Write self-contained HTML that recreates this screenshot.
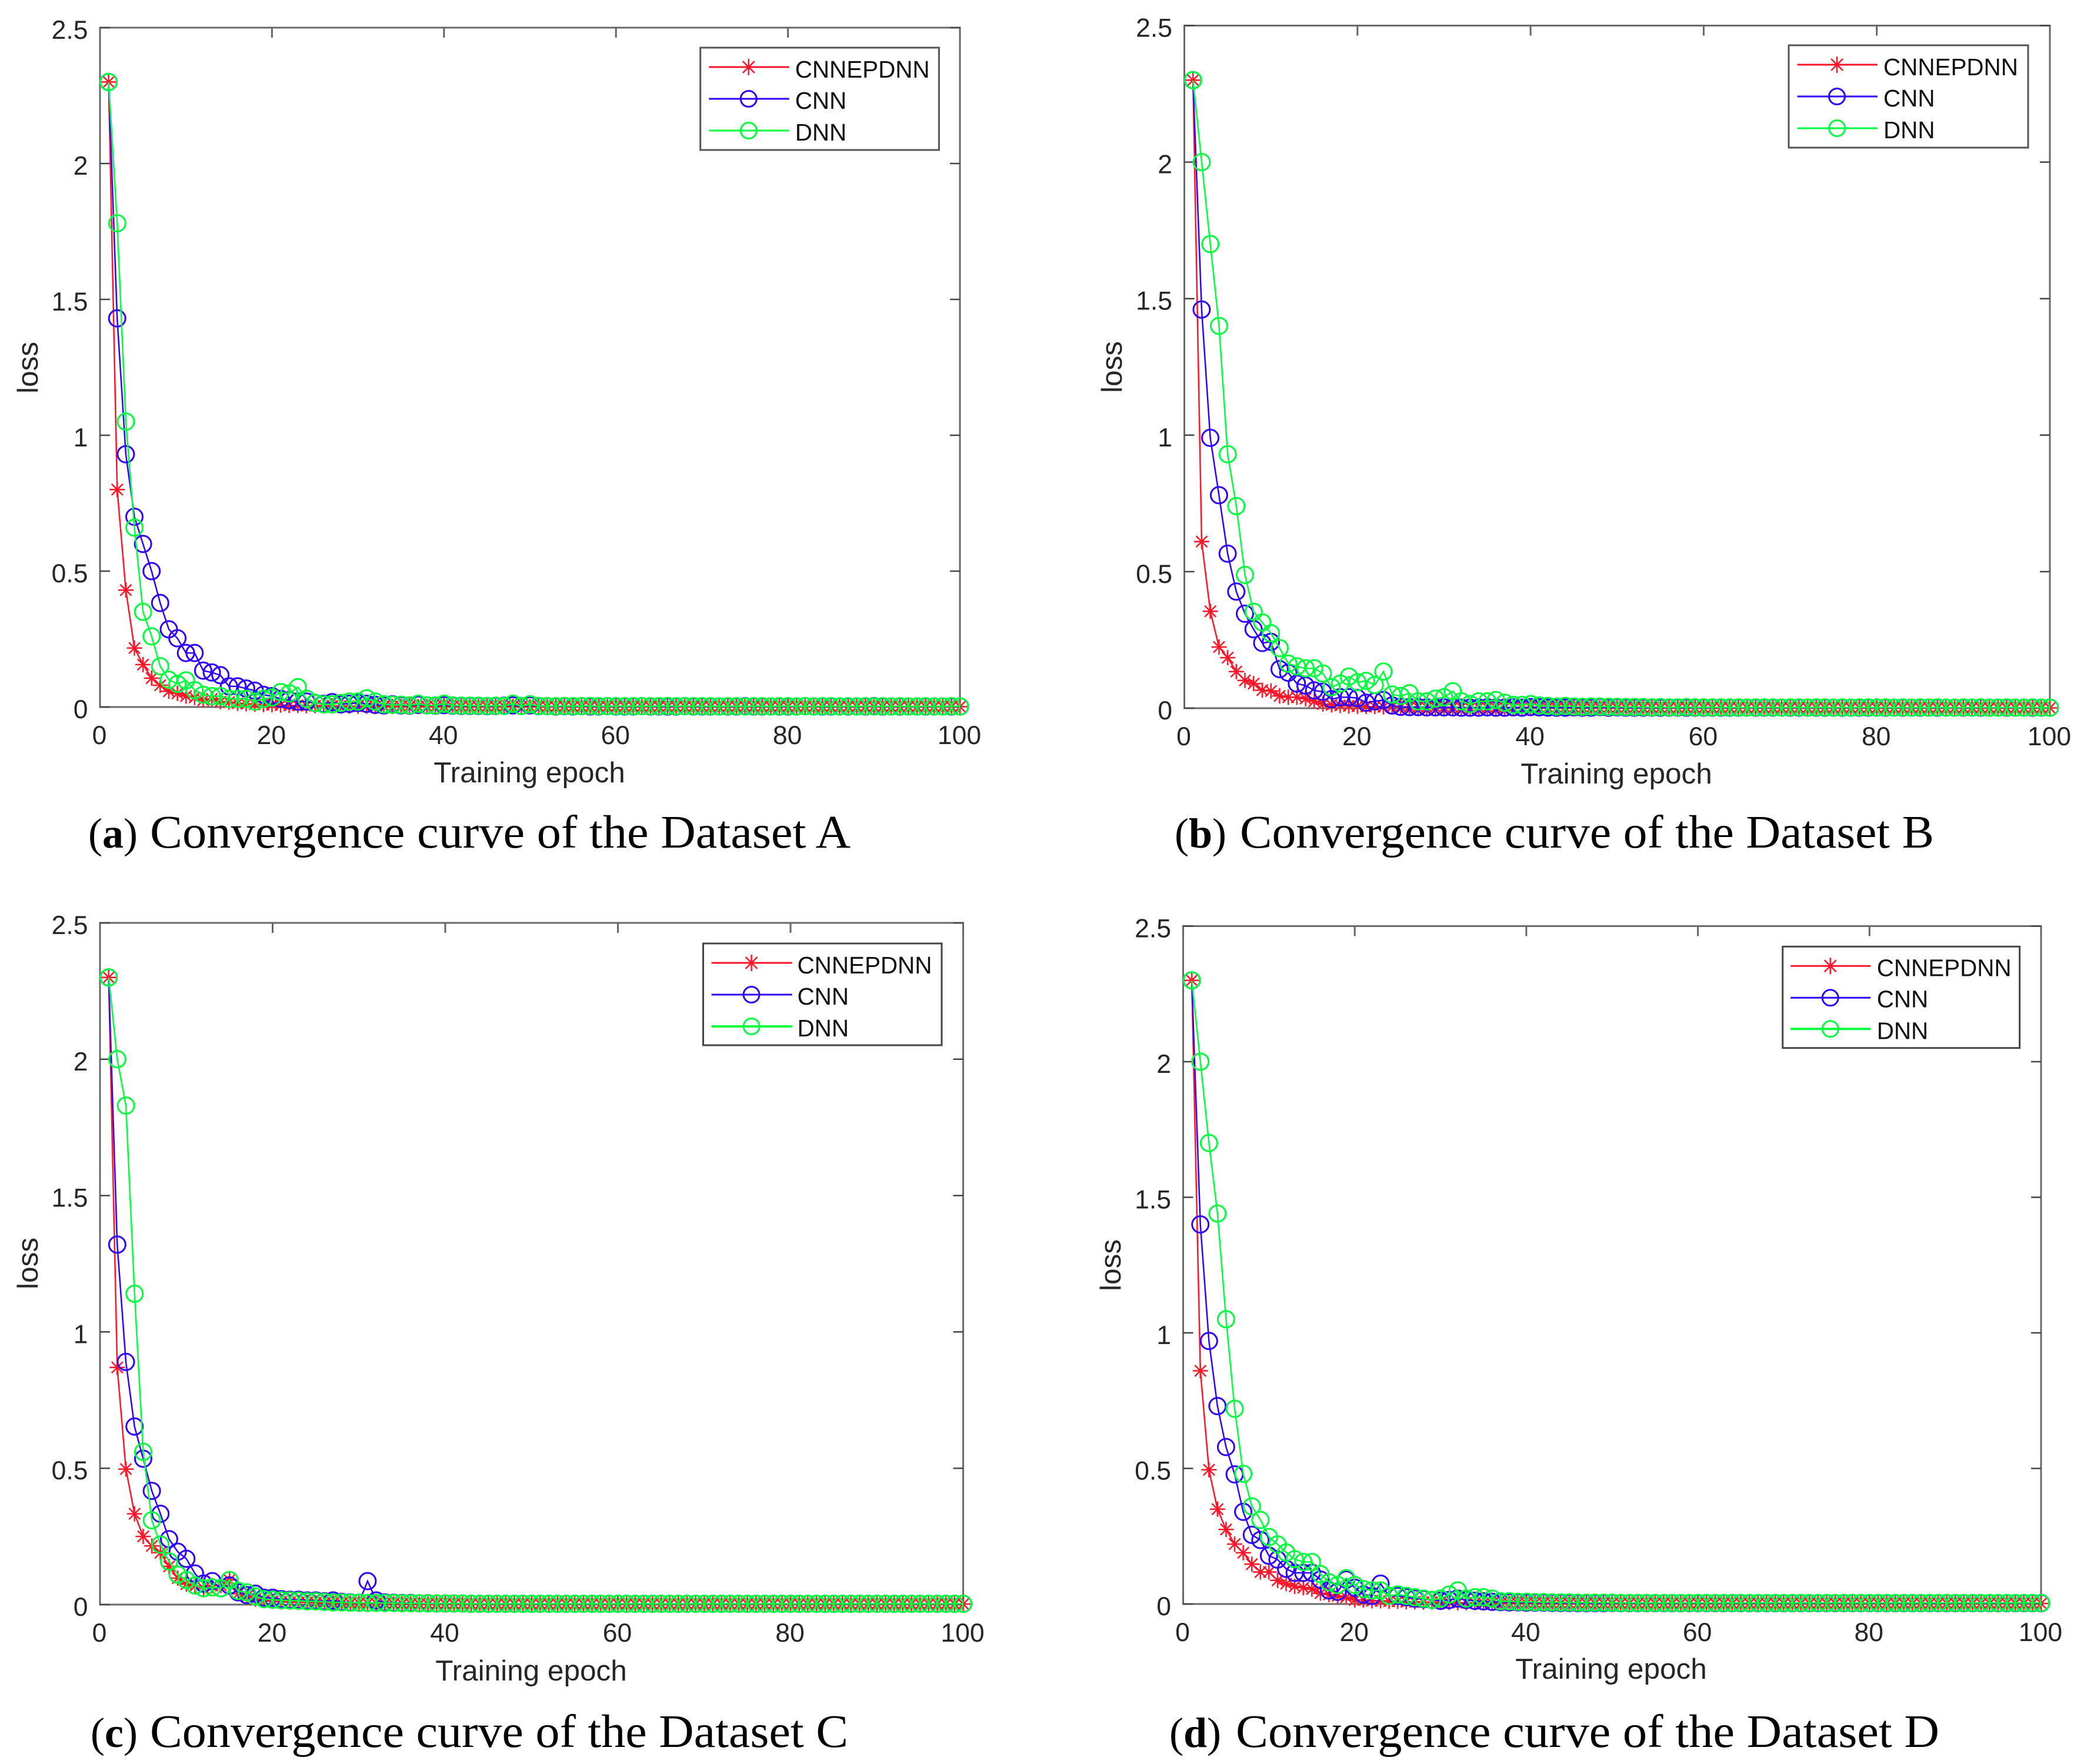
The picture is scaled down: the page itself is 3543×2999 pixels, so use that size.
<!DOCTYPE html>
<html lang="en">
<head>
<meta charset="utf-8">
<title>Convergence curves</title>
<style>
html,body{margin:0;padding:0;background:#fff;}
svg{display:block;}
.tick-text{font-family:"Liberation Sans",sans-serif;font-size:44.5px;fill:#262626;}
.axis-title{font-family:"Liberation Sans",sans-serif;font-size:49.5px;fill:#262626;}
.legend-text{font-family:"Liberation Sans",sans-serif;font-size:40.4px;fill:#111;}
.caption{font-family:"Liberation Serif",serif;font-size:79px;fill:#000;}
.caption-tag{font-size:72px;}
</style>
</head>
<body>
<svg id="figure" xmlns="http://www.w3.org/2000/svg" width="3543" height="2999" viewBox="0 0 3543 2999">
<rect x="0" y="0" width="3543" height="2999" fill="#fff"/>
<g id="panel-a"></g>
<g id="panel-b"></g>
<g id="panel-c"></g>
<g id="panel-d"></g>

<text class="axis-title" x="900" y="1330" text-anchor="middle">Training epoch</text>
<text class="axis-title" x="2748" y="1332" text-anchor="middle">Training epoch</text>
<text class="axis-title" x="903" y="2857" text-anchor="middle">Training epoch</text>
<text class="axis-title" x="2739" y="2854" text-anchor="middle">Training epoch</text>

<text class="axis-title" transform="translate(64,625) rotate(-90)" text-anchor="middle">loss</text>
<text class="axis-title" transform="translate(1907,624) rotate(-90)" text-anchor="middle">loss</text>
<text class="axis-title" transform="translate(64,2148) rotate(-90)" text-anchor="middle">loss</text>
<text class="axis-title" transform="translate(1905,2151) rotate(-90)" text-anchor="middle">loss</text>

<g transform="translate(1190.7,81)">
<rect width="405.7" height="174" fill="#fff" stroke="#555" stroke-width="3"/>
<path d="M14.5 33H151" stroke="#ff1428" stroke-width="3" fill="none"/>
<path transform="translate(82,33)" d="M0-14V14M-10-10L10 10M-10 10L10-10" stroke="#ff1428" stroke-width="2.5" fill="none"/>
<text class="legend-text" x="161" y="51">CNNEPDNN</text>
<path d="M14.5 87H151" stroke="#3000ff" stroke-width="3" fill="none"/>
<circle cx="82" cy="87" r="13.5" stroke="#3000ff" stroke-width="3" fill="none"/>
<text class="legend-text" x="161" y="104">CNN</text>
<path d="M14.5 141H151" stroke="#00ff3c" stroke-width="3" fill="none"/>
<circle cx="82" cy="141" r="13.5" stroke="#00ff3c" stroke-width="3" fill="none"/>
<text class="legend-text" x="161" y="158">DNN</text>
</g>
<g transform="translate(3041,77)">
<rect width="407" height="174" fill="#fff" stroke="#555" stroke-width="3"/>
<path d="M14.5 33H151" stroke="#ff1428" stroke-width="3" fill="none"/>
<path transform="translate(82,33)" d="M0-14V14M-10-10L10 10M-10 10L10-10" stroke="#ff1428" stroke-width="2.5" fill="none"/>
<text class="legend-text" x="161" y="51">CNNEPDNN</text>
<path d="M14.5 87H151" stroke="#3000ff" stroke-width="3" fill="none"/>
<circle cx="82" cy="87" r="13.5" stroke="#3000ff" stroke-width="3" fill="none"/>
<text class="legend-text" x="161" y="104">CNN</text>
<path d="M14.5 141H151" stroke="#00ff3c" stroke-width="3" fill="none"/>
<circle cx="82" cy="141" r="13.5" stroke="#00ff3c" stroke-width="3" fill="none"/>
<text class="legend-text" x="161" y="158">DNN</text>
</g>
<g transform="translate(1195.5,1604)">
<rect width="405.5" height="173" fill="#fff" stroke="#444" stroke-width="3"/>
<path d="M14 33H151" stroke="#ff1428" stroke-width="3" fill="none"/>
<path transform="translate(82,33)" d="M0-14V14M-10-10L10 10M-10 10L10-10" stroke="#ff1428" stroke-width="2.5" fill="none"/>
<text class="legend-text" x="160" y="51">CNNEPDNN</text>
<path d="M14 87H151" stroke="#3000ff" stroke-width="3" fill="none"/>
<circle cx="82" cy="87" r="13.5" stroke="#3000ff" stroke-width="3" fill="none"/>
<text class="legend-text" x="160" y="104">CNN</text>
<path d="M14 141H151" stroke="#00ff3c" stroke-width="4" fill="none"/>
<circle cx="82" cy="141" r="13.5" stroke="#00ff3c" stroke-width="3" fill="none"/>
<text class="legend-text" x="160" y="158">DNN</text>
</g>
<g transform="translate(3030.7,1609.3)">
<rect width="402.9" height="172.4" fill="#fff" stroke="#444" stroke-width="3"/>
<path d="M13.5 33H149.5" stroke="#ff1428" stroke-width="3" fill="none"/>
<path transform="translate(81,33)" d="M0-14V14M-10-10L10 10M-10 10L10-10" stroke="#ff1428" stroke-width="2.5" fill="none"/>
<text class="legend-text" x="160" y="50">CNNEPDNN</text>
<path d="M13.5 87H149.5" stroke="#3000ff" stroke-width="3" fill="none"/>
<circle cx="81" cy="87" r="13.5" stroke="#3000ff" stroke-width="3" fill="none"/>
<text class="legend-text" x="160" y="103">CNN</text>
<path d="M13.5 140H149.5" stroke="#00ff3c" stroke-width="4" fill="none"/>
<circle cx="81" cy="140" r="13.5" stroke="#00ff3c" stroke-width="3" fill="none"/>
<text class="legend-text" x="160" y="157">DNN</text>
</g>

<text class="caption" y="1441"><tspan class="caption-tag" x="150">(<tspan font-weight="bold">a</tspan>)</tspan><tspan x="255" textLength="1191" lengthAdjust="spacingAndGlyphs">Convergence curve of the Dataset A</tspan></text>
<text class="caption" y="1441"><tspan class="caption-tag" x="1997">(<tspan font-weight="bold">b</tspan>)</tspan><tspan x="2108" textLength="1180" lengthAdjust="spacingAndGlyphs">Convergence curve of the Dataset B</tspan></text>
<text class="caption" y="2970"><tspan class="caption-tag" x="154">(<tspan font-weight="bold">c</tspan>)</tspan><tspan x="255" textLength="1187" lengthAdjust="spacingAndGlyphs">Convergence curve of the Dataset C</tspan></text>
<text class="caption" y="2970"><tspan class="caption-tag" x="1988">(<tspan font-weight="bold">d</tspan>)</tspan><tspan x="2101" textLength="1196" lengthAdjust="spacingAndGlyphs">Convergence curve of the Dataset D</tspan></text>
</svg>

<script>
const xTickLabels = [0, 20, 40, 60, 80, 100];
const yTickLabels = [0, 0.5, 1, 1.5, 2, 2.5];

const datasetA_CNNEPDNN = [
2.3,.80,.43,.217,.156,.106,.08,.058,.05,.04,
.035,.025,.03,.02,.018,.014,.012,.01,.009,.008,
.007,.006,.006,.005,.005,.004,.004,.004,.003,.003,
.003,.002,.003,.002,.002,.003,.002,.002,.002,.003,
.002,.002,.002,.001,.002,.002,.001,.002,.002,.001,
.002,.001,.001,.002,.001,.001,.002,.001,.001,.001,
.002,.001,.001,.001,.002,.001,.001,.001,.001,.002,
.001,.001,.001,.001,.002,.001,.001,.001,.001,.001,
.002,.001,.001,.001,.001,.001,.002,.001,.001,.001,
.001,.001,.001,.002,.001,.001,.001,.001,.001,.001];
const datasetA_CNN = [
2.3,1.43,.93,.70,.60,.50,.383,.286,.253,.199,
.199,.134,.127,.117,.076,.076,.068,.06,.045,.04,
.03,.025,.02,.02,.015,.012,.018,.01,.012,.015,
.012,.008,.006,.01,.006,.005,.008,.006,.005,.007,
.005,.004,.004,.004,.003,.004,.005,.006,.004,.006,
.003,.003,.002,.003,.002,.003,.002,.002,.003,.002,
.002,.002,.003,.002,.002,.002,.002,.003,.002,.002,
.002,.002,.002,.002,.003,.002,.002,.002,.002,.002,
.002,.003,.002,.002,.002,.002,.002,.002,.002,.003,
.002,.002,.002,.002,.002,.002,.002,.002,.002,.002];
const datasetA_DNN = [
2.3,1.78,1.05,.66,.35,.26,.15,.10,.085,.098,
.062,.045,.04,.04,.03,.03,.03,.02,.03,.035,
.055,.05,.073,.03,.015,.01,.01,.015,.02,.02,
.032,.02,.01,.008,.008,.006,.012,.006,.006,.012,
.006,.005,.005,.005,.004,.005,.004,.012,.004,.01,
.004,.003,.003,.004,.003,.003,.004,.003,.003,.003,
.003,.003,.003,.003,.003,.004,.003,.003,.003,.003,
.003,.002,.003,.003,.002,.003,.003,.002,.003,.003,
.002,.003,.002,.003,.003,.002,.003,.002,.003,.002,
.003,.002,.003,.002,.002,.003,.002,.002,.003,.002];

const datasetB_CNNEPDNN = [
2.3,.61,.355,.224,.185,.134,.102,.09,.066,.063,
.045,.04,.04,.035,.025,.015,.012,.01,.008,.007,
.006,.006,.005,.005,.005,.004,.004,.003,.004,.003,
.003,.003,.002,.003,.002,.002,.002,.003,.002,.002,
.002,.002,.001,.002,.002,.001,.002,.001,.002,.001,
.002,.001,.001,.002,.001,.001,.001,.002,.001,.001,
.001,.001,.002,.001,.001,.001,.001,.001,.002,.001,
.001,.001,.001,.001,.001,.002,.001,.001,.001,.001,
.001,.001,.001,.002,.001,.001,.001,.001,.001,.001,
.002,.001,.001,.001,.001,.001,.001,.001,.001,.001];
const datasetB_CNN = [
2.3,1.46,.99,.78,.566,.427,.346,.289,.239,.243,
.143,.13,.09,.083,.065,.06,.033,.04,.04,.037,
.02,.025,.03,.01,.005,.004,.004,.003,.003,.003,
.003,.002,.002,.002,.003,.002,.002,.003,.002,.004,
.003,.002,.002,.002,.003,.002,.002,.004,.002,.003,
.002,.002,.002,.002,.002,.002,.002,.002,.002,.002,
.002,.002,.002,.002,.002,.002,.002,.002,.002,.002,
.002,.002,.002,.002,.002,.002,.002,.002,.002,.002,
.002,.002,.002,.002,.002,.002,.002,.002,.002,.002,
.002,.002,.002,.002,.002,.002,.002,.002,.002,.002];
const datasetB_DNN = [
2.3,2.0,1.70,1.40,.93,.74,.488,.353,.314,.274,
.22,.163,.153,.146,.146,.127,.077,.09,.116,.095,
.10,.085,.134,.05,.045,.055,.025,.025,.035,.04,
.062,.025,.015,.025,.025,.03,.02,.012,.012,.015,
.01,.008,.006,.008,.006,.005,.006,.006,.005,.005,
.004,.004,.004,.003,.004,.003,.003,.004,.003,.003,
.003,.003,.003,.003,.002,.003,.003,.003,.002,.003,
.003,.002,.003,.003,.002,.003,.002,.003,.003,.002,
.003,.002,.003,.002,.003,.002,.003,.002,.002,.003,
.002,.003,.002,.002,.003,.002,.002,.003,.002,.002];

const datasetC_CNNEPDNN = [
2.3,.87,.497,.333,.25,.215,.19,.14,.097,.075,
.068,.06,.07,.07,.09,.04,.03,.02,.015,.012,
.01,.009,.008,.008,.007,.006,.006,.005,.005,.005,
.004,.004,.003,.003,.003,.003,.002,.002,.003,.002,
.002,.002,.002,.002,.002,.002,.002,.002,.002,.002,
.002,.002,.002,.002,.002,.002,.002,.002,.002,.002,
.002,.002,.002,.002,.002,.002,.002,.002,.002,.002,
.002,.002,.002,.002,.002,.002,.002,.002,.002,.002,
.002,.002,.002,.002,.002,.002,.002,.002,.002,.002,
.002,.002,.002,.002,.002,.002,.002,.002,.002,.002];
const datasetC_CNN = [
2.3,1.32,.89,.653,.535,.417,.333,.24,.194,.168,
.114,.077,.086,.06,.07,.045,.035,.04,.025,.025,
.02,.018,.018,.015,.015,.012,.015,.01,.008,.007,
.086,.015,.008,.007,.006,.006,.005,.005,.004,.004,
.004,.004,.003,.003,.003,.003,.003,.003,.003,.003,
.003,.003,.003,.003,.003,.003,.003,.003,.003,.003,
.003,.003,.003,.003,.003,.003,.003,.003,.003,.003,
.003,.003,.003,.003,.003,.003,.003,.003,.003,.003,
.003,.003,.003,.003,.003,.003,.003,.003,.003,.003,
.003,.003,.003,.003,.003,.003,.003,.003,.003,.003];
const datasetC_DNN = [
2.3,2.0,1.83,1.14,.56,.309,.22,.158,.11,.09,
.07,.06,.063,.06,.09,.05,.045,.03,.02,.018,
.016,.015,.014,.012,.012,.01,.008,.008,.007,.007,
.006,.006,.006,.006,.005,.005,.005,.004,.004,.004,
.004,.004,.003,.003,.003,.003,.003,.003,.003,.003,
.003,.003,.003,.003,.003,.003,.003,.003,.003,.003,
.003,.003,.003,.003,.003,.003,.003,.003,.003,.003,
.003,.003,.003,.003,.003,.003,.003,.003,.003,.003,
.003,.003,.003,.003,.003,.003,.003,.003,.003,.003,
.003,.003,.003,.003,.003,.003,.003,.003,.003,.003];

const datasetD_CNNEPDNN = [
2.3,.86,.495,.35,.275,.221,.189,.147,.118,.118,
.087,.075,.065,.06,.055,.04,.035,.03,.025,.015,
.015,.012,.012,.01,.01,.008,.008,.007,.007,.006,
.006,.005,.005,.005,.004,.004,.004,.003,.003,.003,
.003,.003,.002,.002,.002,.002,.002,.002,.002,.002,
.002,.002,.002,.002,.002,.002,.002,.002,.002,.002,
.002,.002,.002,.002,.002,.002,.002,.002,.002,.002,
.002,.002,.002,.002,.002,.002,.002,.002,.002,.002,
.002,.002,.002,.002,.002,.002,.002,.002,.002,.002,
.002,.002,.002,.002,.002,.002,.002,.002,.002,.002];
const datasetD_CNN = [
2.3,1.40,.97,.73,.579,.478,.34,.255,.236,.178,
.164,.13,.115,.115,.115,.09,.05,.045,.09,.06,
.035,.03,.075,.03,.03,.025,.02,.018,.015,.012,
.015,.02,.015,.012,.01,.008,.007,.006,.006,.005,
.005,.005,.004,.004,.004,.003,.003,.003,.003,.004,
.003,.003,.003,.003,.003,.003,.003,.003,.003,.003,
.003,.003,.003,.003,.003,.003,.003,.003,.003,.003,
.003,.003,.003,.003,.003,.003,.003,.003,.003,.003,
.003,.003,.003,.003,.003,.003,.003,.003,.003,.003,
.003,.003,.003,.003,.003,.003,.003,.003,.003,.003];
const datasetD_DNN = [
2.3,2.0,1.70,1.44,1.05,.72,.48,.36,.31,.247,
.22,.19,.165,.155,.155,.11,.08,.07,.095,.07,
.055,.05,.05,.03,.035,.03,.025,.02,.015,.02,
.035,.05,.02,.025,.025,.02,.01,.01,.008,.008,
.007,.007,.006,.006,.006,.005,.005,.005,.005,.005,
.004,.004,.004,.004,.004,.004,.004,.004,.004,.004,
.004,.004,.004,.004,.004,.004,.004,.004,.004,.004,
.004,.004,.004,.004,.004,.004,.004,.004,.004,.004,
.004,.004,.004,.004,.004,.004,.004,.004,.004,.004,
.004,.004,.004,.004,.004,.004,.004,.004,.004,.004];

const panelBoxes = {
  a: {left: 170, right: 1632, top: 47, bottom: 1202},
  b: {left: 2013.5, right: 3485, top: 43.5, bottom: 1204},
  c: {left: 170, right: 1637.5, top: 1569, bottom: 2728},
  d: {left: 2011.5, right: 3470, top: 1574.5, bottom: 2727}
};
const panelSeries = {
  a: [datasetA_CNNEPDNN, datasetA_CNN, datasetA_DNN],
  b: [datasetB_CNNEPDNN, datasetB_CNN, datasetB_DNN],
  c: [datasetC_CNNEPDNN, datasetC_CNN, datasetC_DNN],
  d: [datasetD_CNNEPDNN, datasetD_CNN, datasetD_DNN]
};
const seriesColors = ['#ff1428', '#3000ff', '#00ff3c'];
const seriesKeys = ['cnnepdnn', 'cnn', 'dnn'];
const SVG_NS = 'http://www.w3.org/2000/svg';
const STAR = 'M0-13V13M-13 0H13M-9.5-9.5L9.5 9.5M-9.5 9.5L9.5-9.5';

function shape(tag, attrs) {
  const el = document.createElementNS(SVG_NS, tag);
  for (const k in attrs) el.setAttribute(k, attrs[k]);
  return el;
}
function xAxis(box, v) { return box.left + (v / 100) * (box.right - box.left); }
function yAxis(box, v) { return box.bottom - (v / 2.5) * (box.bottom - box.top); }

function drawAxes(g, box) {
  const frame = shape('rect', {x: box.left, y: box.top, width: box.right - box.left, height: box.bottom - box.top, fill: 'none', stroke: '#6a6a6a', 'stroke-width': 3});
  
  
  g.appendChild(frame);
  xTickLabels.forEach(function (t) {
    const x = xAxis(box, t);
    const ticks = shape('path', {d: 'M' + x + ' ' + box.bottom + 'v-17M' + x + ' ' + box.top + 'v17', stroke: '#666', 'stroke-width': 3, fill: 'none'});
    
    
    g.appendChild(ticks);
    const label = shape('text', {x: x - 1, y: box.bottom + 63, 'text-anchor': 'middle', class: 'tick-text'});
    label.textContent = String(t);
    
    
    g.appendChild(label);
  });
  yTickLabels.forEach(function (t) {
    const y = yAxis(box, t);
    const ticks = shape('path', {d: 'M' + box.left + ' ' + y + 'h17M' + box.right + ' ' + y + 'h-17', stroke: '#444', 'stroke-width': 2.5, fill: 'none'});
    
    
    g.appendChild(ticks);
    const label = shape('text', {x: box.left - 20.5, y: y + 19, 'text-anchor': 'end', class: 'tick-text'});
    label.textContent = String(t);
    
    
    g.appendChild(label);
  });
}

function drawSeries(g, box, values, color, key, isStar) {
  const pts = values.map(function (v, i) { return xAxis(box, i + 1).toFixed(1) + ',' + yAxis(box, v).toFixed(1); });
  const line = shape('polyline', {points: pts.join(' '), fill: 'none', stroke: color, 'stroke-width': 2.5});
  
  
  g.appendChild(line);
  values.forEach(function (v, i) {
    const cx = xAxis(box, i + 1);
    const cy = yAxis(box, v);
    let m;
    if (isStar) {
      m = shape('path', {d: STAR, transform: 'translate(' + cx.toFixed(1) + ',' + cy.toFixed(1) + ')', fill: 'none', stroke: color, 'stroke-width': 2.5});
    } else {
      m = shape('circle', {cx: cx.toFixed(1), cy: cy.toFixed(1), r: 14, fill: 'none', stroke: color, 'stroke-width': 3});
    }
    
    
    g.appendChild(m);
  });
}

Object.keys(panelBoxes).forEach(function (id) {
  const g = document.getElementById('panel-' + id);
  const box = panelBoxes[id];
  drawAxes(g, box);
  panelSeries[id].forEach(function (values, s) {
    drawSeries(g, box, values, seriesColors[s], seriesKeys[s], s === 0);
  });
});
</script>
</body>
</html>
